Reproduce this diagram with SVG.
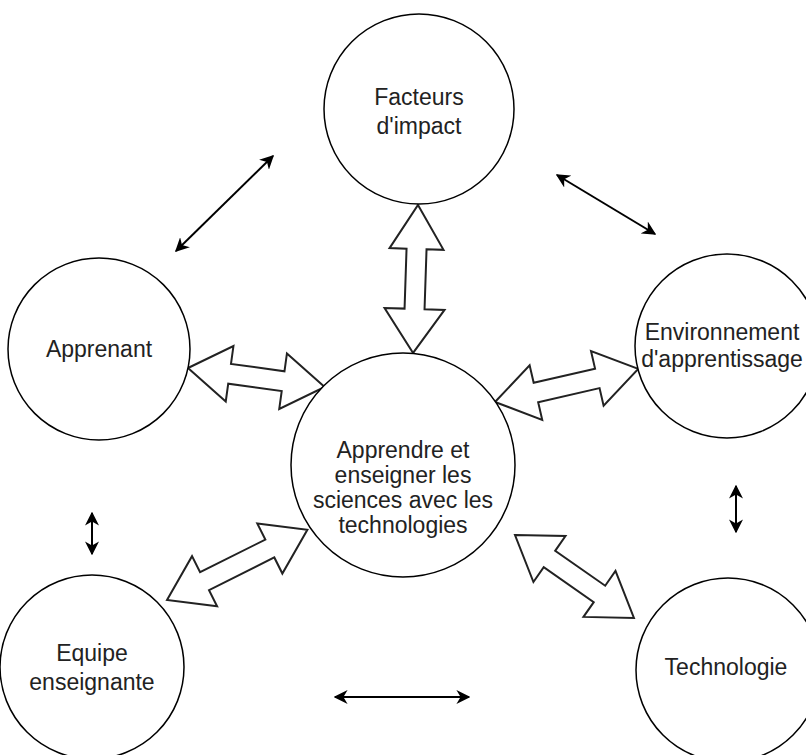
<svg xmlns="http://www.w3.org/2000/svg" width="806" height="755" viewBox="0 0 806 755">
<style>
.node{fill:#fff;stroke:#000;stroke-width:1.5}
.lbl{font-family:"Liberation Sans",Arial,sans-serif;font-size:23px;fill:#222;text-anchor:middle}
.thin{stroke:#000;stroke-width:2;fill:none;marker-start:url(#ah);marker-end:url(#ah)}
.blk{fill:#fff;stroke:#222;stroke-width:2;stroke-linejoin:miter}
</style>
<defs>
<marker id="ah" viewBox="0 0 10 10" refX="9" refY="5" markerWidth="7" markerHeight="7" orient="auto-start-reverse" markerUnits="strokeWidth">
<path d="M0,0 L10,5 L0,10 L3,5 Z" fill="#000"/>
</marker>
</defs>
<rect width="806" height="755" fill="#fff"/>
<g id="connectors">
<line class="thin" x1="176" y1="251" x2="273" y2="156"/>
<line class="thin" x1="557" y1="175" x2="655" y2="234"/>
<line class="thin" x1="92" y1="513" x2="92" y2="554"/>
<line class="thin" x1="736" y1="486" x2="736" y2="532"/>
<line class="thin" x1="335" y1="697" x2="469" y2="697"/>
<path class="blk" transform="translate(418,205) rotate(91.9)" d="M0,0 L44,-27 L44,-10 L104,-10 L104,-30 L148,0 L104,30 L104,10 L44,10 L44,27 Z"/>
<path class="blk" transform="translate(188,368) rotate(7.9)" d="M0,0 L42,-28 L42,-10 L96,-10 L96,-28 L138,0 L96,28 L96,10 L42,10 L42,28 Z"/>
<path class="blk" transform="translate(495,402) rotate(-13)" d="M0,0 L42,-28 L42,-10 L105,-10 L105,-28 L147,0 L105,28 L105,10 L42,10 L42,28 Z"/>
<path class="blk" transform="translate(167,600) rotate(-26.6)" d="M0,0 L42,-28 L42,-10 L115,-10 L115,-28 L157,0 L115,28 L115,10 L42,10 L42,28 Z"/>
<path class="blk" transform="translate(515,535) rotate(34.9)" d="M0,0 L42,-28 L42,-10 L103,-10 L103,-28 L145,0 L103,28 L103,10 L42,10 L42,28 Z"/>
</g>
<g id="facteurs">
<circle class="node" cx="419" cy="109" r="95"/>
<text class="lbl" x="419" y="105">Facteurs</text>
<text class="lbl" x="419" y="134">d'impact</text>
</g>
<g id="apprenant">
<circle class="node" cx="99" cy="349" r="91"/>
<text class="lbl" x="99" y="357">Apprenant</text>
</g>
<g id="environnement">
<circle class="node" cx="727" cy="346" r="92"/>
<text class="lbl" x="722" y="340">Environnement</text>
<text class="lbl" x="722" y="367">d'apprentissage</text>
</g>
<g id="centre">
<circle class="node" cx="403" cy="465" r="112"/>
<text class="lbl" x="403" y="458">Apprendre et</text>
<text class="lbl" x="403" y="483">enseigner les</text>
<text class="lbl" x="403" y="508">sciences avec les</text>
<text class="lbl" x="403" y="533">technologies</text>
</g>
<g id="equipe">
<circle class="node" cx="92" cy="667" r="92"/>
<text class="lbl" x="92" y="661">Equipe</text>
<text class="lbl" x="92" y="690">enseignante</text>
</g>
<g id="technologie">
<circle class="node" cx="728" cy="670" r="92"/>
<text class="lbl" x="726" y="675">Technologie</text>
</g>
</svg>
